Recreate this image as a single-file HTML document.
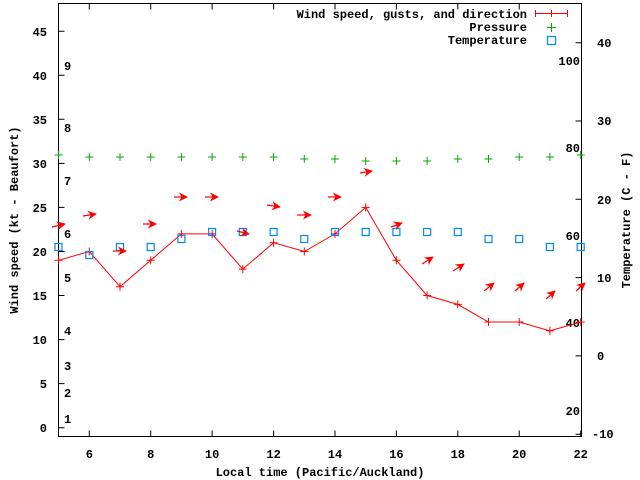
<!DOCTYPE html>
<html><head><meta charset="utf-8"><style>
html,body{margin:0;padding:0;background:#fff}
svg{display:block}
text{font-family:"Liberation Mono",monospace;font-weight:bold;font-size:12px;fill:#000}
</style></head><body>
<svg width="640" height="480" viewBox="0 0 640 480" xmlns="http://www.w3.org/2000/svg">
<defs>
<marker id="ah" viewBox="0 0 10 10" refX="9" refY="5" markerWidth="9" markerHeight="9" orient="auto" markerUnits="userSpaceOnUse">
<path d="M0,0 L10,5 L0,10 L3,5 Z" fill="#f00"/>
</marker>
</defs>
<rect x="58.5" y="3.5" width="523" height="433" fill="none" stroke="#000" stroke-width="1"/>
<g stroke="#000" stroke-width="1">
<path d="M58.5 427.7h6M58.5 383.6h6M58.5 339.6h6M58.5 295.5h6M58.5 251.5h6M58.5 207.4h6M58.5 163.4h6M58.5 119.3h6M58.5 75.3h6M58.5 31.2h6"/>
<path d="M581.5 434.2h-6M581.5 355.9h-6M581.5 277.6h-6M581.5 199.3h-6M581.5 121h-6M581.5 42.7h-6"/>
<path d="M89.3 436.5v-6M150.7 436.5v-6M212.1 436.5v-6M273.6 436.5v-6M335 436.5v-6M396.4 436.5v-6M457.8 436.5v-6M519.2 436.5v-6M580.7 436.5v-6"/>
<path d="M89.3 3.5v6M150.7 3.5v6M212.1 3.5v6M273.6 3.5v6M335 3.5v6M396.4 3.5v6M457.8 3.5v6M519.2 3.5v6"/>
</g>
<g text-anchor="end">
<text x="47" y="432">0</text><text x="47" y="388">5</text><text x="47" y="344">10</text><text x="47" y="300">15</text><text x="47" y="256">20</text><text x="47" y="212">25</text><text x="47" y="168">30</text><text x="47" y="124">35</text><text x="47" y="80">40</text><text x="47" y="36">45</text>
<text x="580" y="65">100</text><text x="580" y="152">80</text><text x="580" y="240">60</text><text x="580" y="327">40</text><text x="580" y="415">20</text>
</g>
<g>
<text x="592" y="438">-10</text><text x="597" y="360">0</text><text x="597" y="282">10</text><text x="597" y="204">20</text><text x="597" y="125">30</text><text x="597" y="47">40</text>
</g>
<g>
<text x="64" y="423">1</text><text x="64" y="397">2</text><text x="64" y="370">3</text><text x="64" y="335">4</text><text x="64" y="282">5</text><text x="64" y="238">6</text><text x="64" y="185">7</text><text x="64" y="132">8</text><text x="64" y="70">9</text>
</g>
<g text-anchor="middle">
<text x="89.3" y="458">6</text><text x="150.7" y="458">8</text><text x="212.1" y="458">10</text><text x="273.6" y="458">12</text><text x="335" y="458">14</text><text x="396.4" y="458">16</text><text x="457.8" y="458">18</text><text x="519.2" y="458">20</text><text x="580.7" y="458">22</text>
<text x="320" y="476">Local time (Pacific/Auckland)</text>
<text transform="translate(18,220) rotate(-90)">Wind speed (kt - Beaufort)</text>
<text transform="translate(630,220) rotate(-90)">Temperature (C - F)</text>
</g>
<g text-anchor="end">
<text x="527" y="18">Wind speed, gusts, and direction</text>
<text x="527" y="31">Pressure</text>
<text x="527" y="44">Temperature</text>
</g>
<path d="M535.5 13.5h32M535.5 10v7M567.5 10v7M551.5 10v7" stroke="#f00" stroke-width="1" fill="none"/>
<path d="M547 27.5h9M551.5 23v9" stroke="#0a0" stroke-width="1"/>
<rect x="547.5" y="36.5" width="8" height="8" fill="none" stroke="#08f" stroke-width="1.2"/>
<polyline fill="none" stroke="#f00" stroke-width="1" points="58.6,260.3 89.3,251.5 120,286.7 150.7,260.3 181.4,233.9 212.1,233.9 242.8,269.1 273.6,242.7 304.3,251.5 335,233.9 365.7,207.4 396.4,260.3 427.1,295.5 457.8,304.4 488.5,322 519.2,322 549.9,330.8 580.7,322"/>
<g stroke="#f00" stroke-width="1">
<path d="M54.6 260.3h8M58.6 256.3v8M85.3 251.5h8M89.3 247.5v8M116 286.7h8M120 282.7v8M146.7 260.3h8M150.7 256.3v8M177.4 233.9h8M181.4 229.9v8M208.1 233.9h8M212.1 229.9v8M238.8 269.1h8M242.8 265.1v8M269.6 242.7h8M273.6 238.7v8M300.3 251.5h8M304.3 247.5v8M331 233.9h8M335 229.9v8M361.7 207.4h8M365.7 203.4v8M392.4 260.3h8M396.4 256.3v8M423.1 295.5h8M427.1 291.5v8M453.8 304.4h8M457.8 300.4v8M484.5 322h8M488.5 318v8M515.2 322h8M519.2 318v8M545.9 330.8h8M549.9 326.8v8M576.7 322h8M580.7 318v8"/>
</g>
<g stroke="#0a0" stroke-width="1">
<path d="M54.6 155h8M58.6 151v8M85.3 157h8M89.3 153v8M116 157h8M120 153v8M146.7 157h8M150.7 153v8M177.4 157h8M181.4 153v8M208.1 157h8M212.1 153v8M238.8 157h8M242.8 153v8M269.6 157h8M273.6 153v8M300.3 159h8M304.3 155v8M331 159h8M335 155v8M361.7 161h8M365.7 157v8M392.4 161h8M396.4 157v8M423.1 161h8M427.1 157v8M453.8 159h8M457.8 155v8M484.5 159h8M488.5 155v8M515.2 157h8M519.2 153v8M545.9 157h8M549.9 153v8M576.7 155h8M580.7 151v8"/>
</g>
<g fill="none" stroke="#08f" stroke-width="1.2">
<rect x="55" y="243.5" width="7" height="7"/><rect x="85.8" y="251.5" width="7" height="7"/><rect x="116.5" y="243.5" width="7" height="7"/><rect x="147.2" y="243.5" width="7" height="7"/><rect x="177.9" y="235.5" width="7" height="7"/><rect x="208.6" y="228.5" width="7" height="7"/><rect x="239.3" y="228.5" width="7" height="7"/><rect x="270.1" y="228.5" width="7" height="7"/><rect x="300.8" y="235.5" width="7" height="7"/><rect x="331.5" y="228.5" width="7" height="7"/><rect x="362.2" y="228.5" width="7" height="7"/><rect x="392.9" y="228.5" width="7" height="7"/><rect x="423.6" y="228.5" width="7" height="7"/><rect x="454.3" y="228.5" width="7" height="7"/><rect x="485" y="235.5" width="7" height="7"/><rect x="515.7" y="235.5" width="7" height="7"/><rect x="546.4" y="243.5" width="7" height="7"/><rect x="577.2" y="243.5" width="7" height="7"/>
</g>
<g stroke="#f00" stroke-width="1.2" marker-end="url(#ah)" fill="none">
<line x1="52" y1="227" x2="65" y2="224"/>
<line x1="83" y1="216" x2="96" y2="214"/>
<line x1="113" y1="251" x2="126" y2="251"/>
<line x1="143" y1="224" x2="156" y2="224"/>
<line x1="174" y1="197" x2="187" y2="197"/>
<line x1="205" y1="197" x2="218" y2="197"/>
<line x1="237" y1="231" x2="249" y2="234"/>
<line x1="267" y1="205" x2="280" y2="207"/>
<line x1="297" y1="215" x2="311" y2="215"/>
<line x1="328" y1="197" x2="341" y2="197"/>
<line x1="360" y1="173" x2="372" y2="171"/>
<line x1="391" y1="227" x2="402" y2="223"/>
<line x1="422" y1="264" x2="433" y2="257"/>
<line x1="453" y1="271" x2="464" y2="264"/>
<line x1="484" y1="291" x2="494" y2="283"/>
<line x1="515" y1="291" x2="524" y2="283"/>
<line x1="546" y1="299" x2="555" y2="291"/>
<line x1="576" y1="291" x2="585" y2="283"/>
</g>
</svg>
</body></html>
